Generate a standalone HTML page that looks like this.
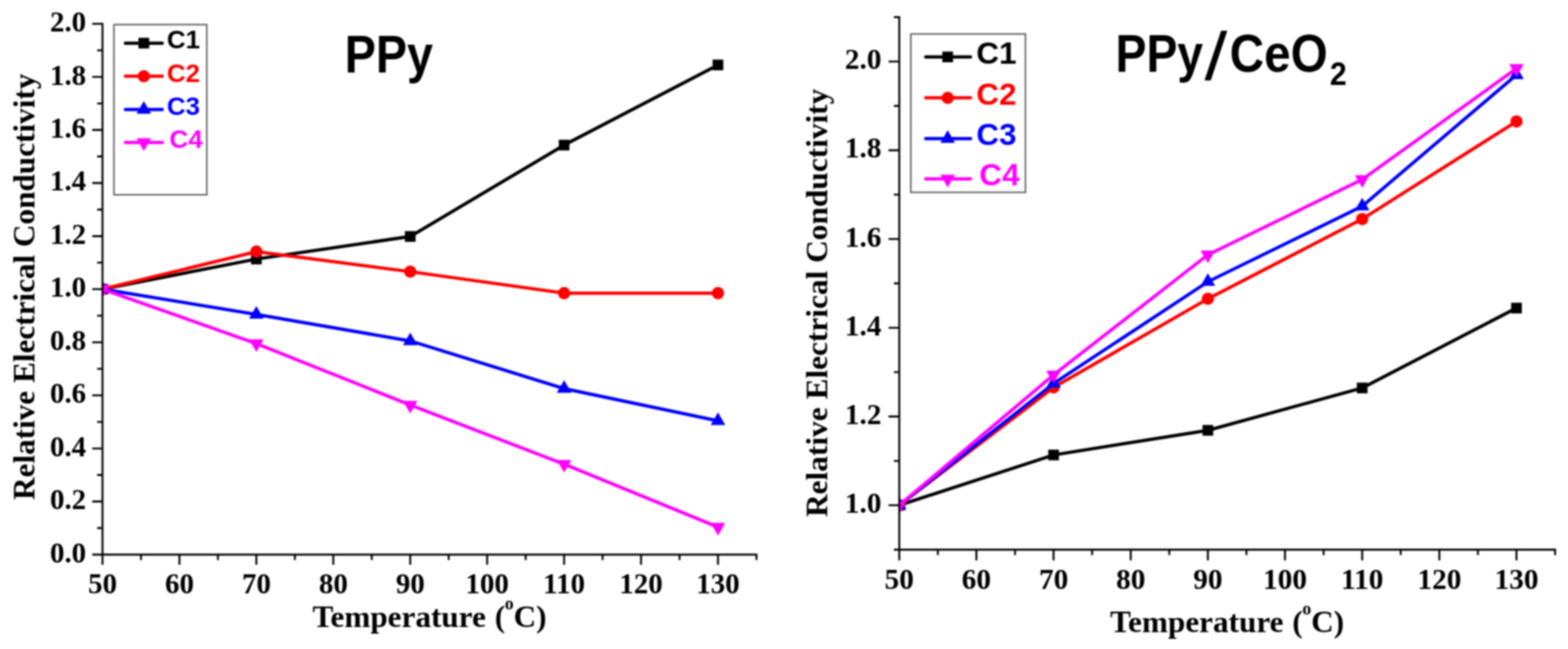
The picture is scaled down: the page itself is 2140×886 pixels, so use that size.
<!DOCTYPE html><html><head><meta charset="utf-8"><title>Relative Electrical Conductivity</title>
<style>html,body{margin:0;padding:0;background:#fff;}body{width:2140px;height:886px;overflow:hidden;}svg{display:block;filter:blur(1px);}</style></head><body>
<svg width="2140" height="886" viewBox="0 0 2140 886">
<rect width="2140" height="886" fill="#fff"/>
<clipPath id="cl"><rect x="139.9" y="0" width="912.5" height="757.1"/></clipPath>
<g clip-path="url(#cl)">
<path d="M139.9 394.8L349.9 353.61L559.9 322.81L769.9 198.07L979.9 88.66" fill="none" stroke="#000000" stroke-width="4.5" stroke-linejoin="miter" stroke-linecap="butt"/>
<rect x="132.6" y="387.5" width="14.6" height="14.6" fill="#000000"/>
<rect x="342.6" y="346.31" width="14.6" height="14.6" fill="#000000"/>
<rect x="552.6" y="315.51" width="14.6" height="14.6" fill="#000000"/>
<rect x="762.6" y="190.77" width="14.6" height="14.6" fill="#000000"/>
<rect x="972.6" y="81.36" width="14.6" height="14.6" fill="#000000"/>
<path d="M139.9 394.8L349.9 343.5L559.9 370.89L769.9 400.23L979.9 400.23" fill="none" stroke="#ff0000" stroke-width="4.5" stroke-linejoin="miter" stroke-linecap="butt"/>
<circle cx="139.9" cy="394.8" r="8.4" fill="#ff0000"/>
<circle cx="349.9" cy="343.5" r="8.4" fill="#ff0000"/>
<circle cx="559.9" cy="370.89" r="8.4" fill="#ff0000"/>
<circle cx="769.9" cy="400.23" r="8.4" fill="#ff0000"/>
<circle cx="979.9" cy="400.23" r="8.4" fill="#ff0000"/>
<path d="M139.9 394.8L349.9 429.22L559.9 465.45L769.9 530.48L979.9 574.5" fill="none" stroke="#0000ff" stroke-width="4.5" stroke-linejoin="miter" stroke-linecap="butt"/>
<path d="M139.9 383.25L149.9 400.57L129.9 400.57Z" fill="#0000ff"/>
<path d="M349.9 417.67L359.9 434.99L339.9 434.99Z" fill="#0000ff"/>
<path d="M559.9 453.9L569.9 471.22L549.9 471.22Z" fill="#0000ff"/>
<path d="M769.9 518.93L779.9 536.25L759.9 536.25Z" fill="#0000ff"/>
<path d="M979.9 562.95L989.9 580.27L969.9 580.27Z" fill="#0000ff"/>
<path d="M139.9 394.8L349.9 469.07L559.9 552.91L769.9 633.7L979.9 719.6" fill="none" stroke="#ff00ff" stroke-width="4.5" stroke-linejoin="miter" stroke-linecap="butt"/>
<path d="M139.9 406.35L149.9 389.03L129.9 389.03Z" fill="#ff00ff"/>
<path d="M349.9 480.62L359.9 463.3L339.9 463.3Z" fill="#ff00ff"/>
<path d="M559.9 564.45L569.9 547.13L549.9 547.13Z" fill="#ff00ff"/>
<path d="M769.9 645.25L779.9 627.93L759.9 627.93Z" fill="#ff00ff"/>
<path d="M979.9 731.15L989.9 713.83L969.9 713.83Z" fill="#ff00ff"/>
</g>
<path d="M139.9 31.2V757.1M139.9 757.1H1033.7M125.9 757.1H139.9M132.6 720.87H139.9M125.9 684.64H139.9M132.6 648.41H139.9M125.9 612.18H139.9M132.6 575.95H139.9M125.9 539.72H139.9M132.6 503.49H139.9M125.9 467.26H139.9M132.6 431.03H139.9M125.9 394.8H139.9M132.6 358.57H139.9M125.9 322.34H139.9M132.6 286.11H139.9M125.9 249.88H139.9M132.6 213.65H139.9M125.9 177.42H139.9M132.6 141.19H139.9M125.9 104.96H139.9M132.6 68.73H139.9M125.9 32.5H139.9M139.9 757.1V771.1M192.4 757.1V764.4M244.9 757.1V771.1M297.4 757.1V764.4M349.9 757.1V771.1M402.4 757.1V764.4M454.9 757.1V771.1M507.4 757.1V764.4M559.9 757.1V771.1M612.4 757.1V764.4M664.9 757.1V771.1M717.4 757.1V764.4M769.9 757.1V771.1M822.4 757.1V764.4M874.9 757.1V771.1M927.4 757.1V764.4M979.9 757.1V771.1M1032.4 757.1V764.4" fill="none" stroke="#000" stroke-width="2.6" stroke-linecap="butt"/>
<text x="117.5" y="767.7" font-family="'Liberation Serif','Times New Roman',serif" font-weight="bold" font-size="39.5" text-anchor="end">0.0</text>
<text x="117.5" y="695.24" font-family="'Liberation Serif','Times New Roman',serif" font-weight="bold" font-size="39.5" text-anchor="end">0.2</text>
<text x="117.5" y="622.78" font-family="'Liberation Serif','Times New Roman',serif" font-weight="bold" font-size="39.5" text-anchor="end">0.4</text>
<text x="117.5" y="550.32" font-family="'Liberation Serif','Times New Roman',serif" font-weight="bold" font-size="39.5" text-anchor="end">0.6</text>
<text x="117.5" y="477.86" font-family="'Liberation Serif','Times New Roman',serif" font-weight="bold" font-size="39.5" text-anchor="end">0.8</text>
<text x="117.5" y="405.4" font-family="'Liberation Serif','Times New Roman',serif" font-weight="bold" font-size="39.5" text-anchor="end">1.0</text>
<text x="117.5" y="332.94" font-family="'Liberation Serif','Times New Roman',serif" font-weight="bold" font-size="39.5" text-anchor="end">1.2</text>
<text x="117.5" y="260.48" font-family="'Liberation Serif','Times New Roman',serif" font-weight="bold" font-size="39.5" text-anchor="end">1.4</text>
<text x="117.5" y="188.02" font-family="'Liberation Serif','Times New Roman',serif" font-weight="bold" font-size="39.5" text-anchor="end">1.6</text>
<text x="117.5" y="115.56" font-family="'Liberation Serif','Times New Roman',serif" font-weight="bold" font-size="39.5" text-anchor="end">1.8</text>
<text x="117.5" y="43.1" font-family="'Liberation Serif','Times New Roman',serif" font-weight="bold" font-size="39.5" text-anchor="end">2.0</text>
<text x="139.9" y="810.3" font-family="'Liberation Serif','Times New Roman',serif" font-weight="bold" font-size="39.5" text-anchor="middle">50</text>
<text x="244.9" y="810.3" font-family="'Liberation Serif','Times New Roman',serif" font-weight="bold" font-size="39.5" text-anchor="middle">60</text>
<text x="349.9" y="810.3" font-family="'Liberation Serif','Times New Roman',serif" font-weight="bold" font-size="39.5" text-anchor="middle">70</text>
<text x="454.9" y="810.3" font-family="'Liberation Serif','Times New Roman',serif" font-weight="bold" font-size="39.5" text-anchor="middle">80</text>
<text x="559.9" y="810.3" font-family="'Liberation Serif','Times New Roman',serif" font-weight="bold" font-size="39.5" text-anchor="middle">90</text>
<text x="664.9" y="810.3" font-family="'Liberation Serif','Times New Roman',serif" font-weight="bold" font-size="39.5" text-anchor="middle">100</text>
<text x="769.9" y="810.3" font-family="'Liberation Serif','Times New Roman',serif" font-weight="bold" font-size="39.5" text-anchor="middle">110</text>
<text x="874.9" y="810.3" font-family="'Liberation Serif','Times New Roman',serif" font-weight="bold" font-size="39.5" text-anchor="middle">120</text>
<text x="979.9" y="810.3" font-family="'Liberation Serif','Times New Roman',serif" font-weight="bold" font-size="39.5" text-anchor="middle">130</text>
<clipPath id="cr"><rect x="1227.3" y="0" width="915.05" height="750.38"/></clipPath>
<g clip-path="url(#cr)">
<path d="M1227.3 689.8L1437.9 621.1L1648.5 587.48L1859.1 529.63L2069.7 420.58" fill="none" stroke="#000000" stroke-width="4.5" stroke-linejoin="miter" stroke-linecap="butt"/>
<rect x="1220" y="682.5" width="14.6" height="14.6" fill="#000000"/>
<rect x="1430.6" y="613.8" width="14.6" height="14.6" fill="#000000"/>
<rect x="1641.2" y="580.18" width="14.6" height="14.6" fill="#000000"/>
<rect x="1851.8" y="522.33" width="14.6" height="14.6" fill="#000000"/>
<rect x="2062.4" y="413.28" width="14.6" height="14.6" fill="#000000"/>
<path d="M1227.3 689.8L1437.9 528.9L1648.5 407.92L1859.1 299.06L2069.7 165.78" fill="none" stroke="#ff0000" stroke-width="4.5" stroke-linejoin="miter" stroke-linecap="butt"/>
<circle cx="1227.3" cy="689.8" r="8.4" fill="#ff0000"/>
<circle cx="1437.9" cy="528.9" r="8.4" fill="#ff0000"/>
<circle cx="1648.5" cy="407.92" r="8.4" fill="#ff0000"/>
<circle cx="1859.1" cy="299.06" r="8.4" fill="#ff0000"/>
<circle cx="2069.7" cy="165.78" r="8.4" fill="#ff0000"/>
<path d="M1227.3 689.8L1437.9 523.51L1648.5 384.6L1859.1 281.49L2069.7 102.17" fill="none" stroke="#0000ff" stroke-width="4.5" stroke-linejoin="miter" stroke-linecap="butt"/>
<path d="M1227.3 678.25L1237.3 695.57L1217.3 695.57Z" fill="#0000ff"/>
<path d="M1437.9 511.96L1447.9 529.28L1427.9 529.28Z" fill="#0000ff"/>
<path d="M1648.5 373.05L1658.5 390.37L1638.5 390.37Z" fill="#0000ff"/>
<path d="M1859.1 269.94L1869.1 287.26L1849.1 287.26Z" fill="#0000ff"/>
<path d="M2069.7 90.63L2079.7 107.95L2059.7 107.95Z" fill="#0000ff"/>
<path d="M1227.3 689.8L1437.9 511.69L1648.5 347.83L1859.1 245.02L2069.7 93.39" fill="none" stroke="#ff00ff" stroke-width="4.5" stroke-linejoin="miter" stroke-linecap="butt"/>
<path d="M1227.3 701.35L1237.3 684.03L1217.3 684.03Z" fill="#ff00ff"/>
<path d="M1437.9 523.24L1447.9 505.92L1427.9 505.92Z" fill="#ff00ff"/>
<path d="M1648.5 359.37L1658.5 342.05L1638.5 342.05Z" fill="#ff00ff"/>
<path d="M1859.1 256.57L1869.1 239.25L1849.1 239.25Z" fill="#ff00ff"/>
<path d="M2069.7 104.94L2079.7 87.62L2059.7 87.62Z" fill="#ff00ff"/>
</g>
<path d="M1227.3 22.12V750.38M1227.3 750.38H2123.65M1220 750.38H1227.3M1212.7 689.8H1227.3M1220 629.22H1227.3M1212.7 568.64H1227.3M1220 508.06H1227.3M1212.7 447.48H1227.3M1220 386.9H1227.3M1212.7 326.32H1227.3M1220 265.74H1227.3M1212.7 205.16H1227.3M1220 144.58H1227.3M1212.7 84H1227.3M1220 23.42H1227.3M1227.3 750.38V764.98M1279.95 750.38V757.68M1332.6 750.38V764.98M1385.25 750.38V757.68M1437.9 750.38V764.98M1490.55 750.38V757.68M1543.2 750.38V764.98M1595.85 750.38V757.68M1648.5 750.38V764.98M1701.15 750.38V757.68M1753.8 750.38V764.98M1806.45 750.38V757.68M1859.1 750.38V764.98M1911.75 750.38V757.68M1964.4 750.38V764.98M2017.05 750.38V757.68M2069.7 750.38V764.98M2122.35 750.38V757.68" fill="none" stroke="#000" stroke-width="2.6" stroke-linecap="butt"/>
<text x="1203" y="700.1" font-family="'Liberation Serif','Times New Roman',serif" font-weight="bold" font-size="40" text-anchor="end">1.0</text>
<text x="1203" y="578.94" font-family="'Liberation Serif','Times New Roman',serif" font-weight="bold" font-size="40" text-anchor="end">1.2</text>
<text x="1203" y="457.78" font-family="'Liberation Serif','Times New Roman',serif" font-weight="bold" font-size="40" text-anchor="end">1.4</text>
<text x="1203" y="336.62" font-family="'Liberation Serif','Times New Roman',serif" font-weight="bold" font-size="40" text-anchor="end">1.6</text>
<text x="1203" y="215.46" font-family="'Liberation Serif','Times New Roman',serif" font-weight="bold" font-size="40" text-anchor="end">1.8</text>
<text x="1203" y="94.3" font-family="'Liberation Serif','Times New Roman',serif" font-weight="bold" font-size="40" text-anchor="end">2.0</text>
<text x="1227.3" y="803.6" font-family="'Liberation Serif','Times New Roman',serif" font-weight="bold" font-size="40" text-anchor="middle">50</text>
<text x="1332.6" y="803.6" font-family="'Liberation Serif','Times New Roman',serif" font-weight="bold" font-size="40" text-anchor="middle">60</text>
<text x="1437.9" y="803.6" font-family="'Liberation Serif','Times New Roman',serif" font-weight="bold" font-size="40" text-anchor="middle">70</text>
<text x="1543.2" y="803.6" font-family="'Liberation Serif','Times New Roman',serif" font-weight="bold" font-size="40" text-anchor="middle">80</text>
<text x="1648.5" y="803.6" font-family="'Liberation Serif','Times New Roman',serif" font-weight="bold" font-size="40" text-anchor="middle">90</text>
<text x="1753.8" y="803.6" font-family="'Liberation Serif','Times New Roman',serif" font-weight="bold" font-size="40" text-anchor="middle">100</text>
<text x="1859.1" y="803.6" font-family="'Liberation Serif','Times New Roman',serif" font-weight="bold" font-size="40" text-anchor="middle">110</text>
<text x="1964.4" y="803.6" font-family="'Liberation Serif','Times New Roman',serif" font-weight="bold" font-size="40" text-anchor="middle">120</text>
<text x="2069.7" y="803.6" font-family="'Liberation Serif','Times New Roman',serif" font-weight="bold" font-size="40" text-anchor="middle">130</text>
<text x="426.5" y="855.6" font-family="'Liberation Serif','Times New Roman',serif" font-weight="bold" font-size="42.6">Temperature</text><text x="675.2" y="855.6" font-family="'Liberation Serif','Times New Roman',serif" font-weight="bold" font-size="42.6">(</text><text transform="translate(688.9,831.6) scale(1,1.06)" font-family="'Liberation Serif','Times New Roman',serif" font-weight="bold" font-size="24">o</text><text x="700.9" y="855.6" font-family="'Liberation Serif','Times New Roman',serif" font-weight="bold" font-size="42.6">C)</text>
<text x="1515.1" y="862.6" font-family="'Liberation Serif','Times New Roman',serif" font-weight="bold" font-size="42.6">Temperature</text><text x="1763.8" y="862.6" font-family="'Liberation Serif','Times New Roman',serif" font-weight="bold" font-size="42.6">(</text><text transform="translate(1777.5,838.6) scale(1,1.06)" font-family="'Liberation Serif','Times New Roman',serif" font-weight="bold" font-size="24">o</text><text x="1789.5" y="862.6" font-family="'Liberation Serif','Times New Roman',serif" font-weight="bold" font-size="42.6">C)</text>
<text transform="translate(47.4,682.5) rotate(-90)" font-family="'Liberation Serif','Times New Roman',serif" font-weight="bold" font-size="42.6">Relative Electrical Conductivity</text>
<text transform="translate(1129.3,705.8) rotate(-90)" font-family="'Liberation Serif','Times New Roman',serif" font-weight="bold" font-size="42.8">Relative Electrical Conductivity</text>
<text x="470.5" y="99.1" font-family="'Liberation Sans',Arial,sans-serif" font-weight="bold" font-size="72" textLength="120.4" lengthAdjust="spacingAndGlyphs">PPy</text>
<text x="1522.5" y="98.3" font-family="'Liberation Sans',Arial,sans-serif" font-weight="bold" font-size="72" textLength="119.5" lengthAdjust="spacingAndGlyphs">PPy</text>
<text transform="translate(1643.6,107.6) skewX(-10.3)" font-family="'Liberation Sans',Arial,sans-serif" font-weight="bold" font-size="91" textLength="20.2" lengthAdjust="spacingAndGlyphs">/</text>
<text x="1678.3" y="98.3" font-family="'Liberation Sans',Arial,sans-serif" font-weight="bold" font-size="72" textLength="133.7" lengthAdjust="spacingAndGlyphs">CeO</text>
<text x="1815" y="115.5" font-family="'Liberation Sans',Arial,sans-serif" font-weight="bold" font-size="45" textLength="23" lengthAdjust="spacingAndGlyphs">2</text>
<rect x="155.5" y="33.6" width="126.8" height="232.3" fill="#fff" stroke="#5a5a5a" stroke-width="2"/>
<path d="M171.1 58.9H221.5" stroke="#000000" stroke-width="4.5" stroke-linecap="round"/>
<rect x="189" y="51.6" width="14.6" height="14.6" fill="#000000"/>
<text x="227.7" y="66.3" font-family="'Liberation Sans',Arial,sans-serif" font-weight="bold" font-size="35.5" fill="#000000">C1</text>
<path d="M171.1 104.1H221.5" stroke="#ff0000" stroke-width="4.5" stroke-linecap="round"/>
<circle cx="196.3" cy="104.1" r="8.4" fill="#ff0000"/>
<text x="227.7" y="111.5" font-family="'Liberation Sans',Arial,sans-serif" font-weight="bold" font-size="35.5" fill="#ff0000">C2</text>
<path d="M171.1 149.5H221.5" stroke="#0000ff" stroke-width="4.5" stroke-linecap="round"/>
<path d="M196.3 137.95L206.3 155.27L186.3 155.27Z" fill="#0000ff"/>
<text x="227.7" y="156.9" font-family="'Liberation Sans',Arial,sans-serif" font-weight="bold" font-size="35.5" fill="#0000ff">C3</text>
<path d="M171.1 194.6H221.5" stroke="#ff00ff" stroke-width="4.5" stroke-linecap="round"/>
<path d="M196.3 206.15L206.3 188.83L186.3 188.83Z" fill="#ff00ff"/>
<text x="231.3" y="202" font-family="'Liberation Sans',Arial,sans-serif" font-weight="bold" font-size="35.5" fill="#ff00ff">C4</text>
<rect x="1243.1" y="46.4" width="156.4" height="216.2" fill="#fff" stroke="#5a5a5a" stroke-width="2"/>
<path d="M1263.4 77.7H1324.6" stroke="#000000" stroke-width="4.5" stroke-linecap="round"/>
<rect x="1286.1" y="70.4" width="14.6" height="14.6" fill="#000000"/>
<text x="1332.4" y="86.7" font-family="'Liberation Sans',Arial,sans-serif" font-weight="bold" font-size="43" fill="#000000">C1</text>
<path d="M1263.4 133.6H1324.6" stroke="#ff0000" stroke-width="4.5" stroke-linecap="round"/>
<circle cx="1293.4" cy="133.6" r="8.4" fill="#ff0000"/>
<text x="1332.4" y="142.6" font-family="'Liberation Sans',Arial,sans-serif" font-weight="bold" font-size="43" fill="#ff0000">C2</text>
<path d="M1263.4 189.2H1324.6" stroke="#0000ff" stroke-width="4.5" stroke-linecap="round"/>
<path d="M1293.4 177.65L1303.4 194.97L1283.4 194.97Z" fill="#0000ff"/>
<text x="1332.4" y="198.2" font-family="'Liberation Sans',Arial,sans-serif" font-weight="bold" font-size="43" fill="#0000ff">C3</text>
<path d="M1263.4 244.2H1324.6" stroke="#ff00ff" stroke-width="4.5" stroke-linecap="round"/>
<path d="M1293.4 255.75L1303.4 238.43L1283.4 238.43Z" fill="#ff00ff"/>
<text x="1336.6" y="253.2" font-family="'Liberation Sans',Arial,sans-serif" font-weight="bold" font-size="43" fill="#ff00ff">C4</text>
</svg></body></html>
